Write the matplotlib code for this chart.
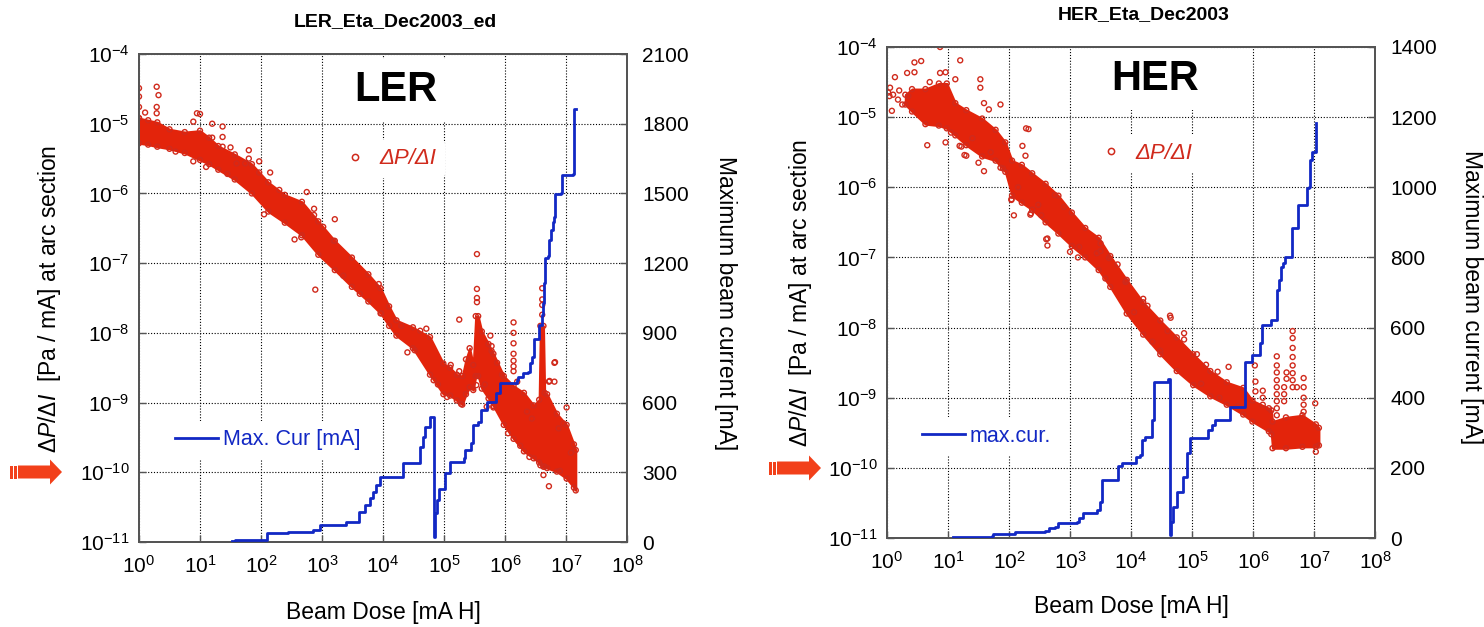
import numpy as np
import matplotlib
matplotlib.use('Agg')
import matplotlib.pyplot as plt
from matplotlib.ticker import FixedLocator, NullLocator, FixedFormatter
from matplotlib.lines import Line2D
from matplotlib.patches import Polygon
import matplotlib.transforms as mtransforms

plt.rcParams['font.family'] = ['Liberation Sans', 'DejaVu Sans']
plt.rcParams['mathtext.fontset'] = 'custom'
plt.rcParams['mathtext.rm'] = 'Liberation Sans'
plt.rcParams['mathtext.it'] = 'Liberation Sans:italic'
plt.rcParams['mathtext.default'] = 'regular'

# ---------------- data (exponents of 10 for the log axes) ----------------
# LER: dense band of dP/dI points (lower / upper envelope of the cloud)
LER_BAND_LOGX = [0.00, 0.15, 0.30, 0.50, 0.75, 1.00, 1.15, 1.30, 1.57, 1.85,
                 2.12, 2.39, 2.67, 2.94, 3.21, 3.49, 3.76, 3.96, 4.10, 4.22,
                 4.49, 4.77, 4.99, 5.10, 5.21, 5.30, 5.36, 5.42, 5.48, 5.52,
                 5.56, 5.62, 5.73, 5.81, 5.98, 6.14, 6.31, 6.47, 6.56, 6.58,
                 6.63, 6.65, 6.69, 6.85, 7.01, 7.13, 7.16]
LER_BAND_LO = [-5.28, -5.30, -5.33, -5.36, -5.42, -5.52, -5.58, -5.66, -5.80, -6.00,
               -6.26, -6.42, -6.60, -6.88, -7.10, -7.34, -7.55, -7.72, -7.90, -8.04,
               -8.22, -8.60, -8.88, -8.90, -8.97, -9.03, -8.88, -8.78, -8.82, -8.62,
               -8.62, -8.80, -8.94, -9.05, -9.32, -9.52, -9.70, -9.80, -9.86, -9.90,
               -9.92, -9.92, -9.94, -9.99, -10.09, -10.22, -10.26]
LER_BAND_HI = [-4.92, -4.95, -4.98, -5.08, -5.12, -5.10, -5.20, -5.32, -5.44, -5.58,
               -5.84, -6.02, -6.12, -6.40, -6.68, -6.92, -7.16, -7.36, -7.62, -7.82,
               -7.92, -8.06, -8.44, -8.50, -8.60, -8.62, -8.38, -8.22, -8.46, -7.76,
               -7.76, -7.98, -8.16, -8.30, -8.62, -8.76, -8.86, -9.04, -8.96, -7.90,
               -7.90, -8.86, -8.88, -9.16, -9.32, -9.60, -9.68]
# LER: isolated points
LER_PTS_LOGX = [0.00, 0.00, 0.00, 0.00, 0.10, 0.29, 0.32, 0.29, 0.29, 0.95,
                1.00, 0.89, 1.20, 1.37, 1.37, 1.20, 1.37, 1.50, 1.80, 1.80,
                1.97, 1.97, 2.15, 1.74, 1.60, 0.89, 2.30, 2.75, 2.87, 2.87,
                3.21, 3.02, 3.19, 2.89, 2.66, 3.93, 3.97, 4.30, 4.61, 4.71,
                4.52, 5.25, 5.54, 5.54, 5.54, 5.54, 5.76, 5.78, 5.78, 5.87,
                5.95, 6.14, 6.14, 6.14, 6.14, 6.14, 6.14, 6.14, 5.11, 5.25,
                5.67, 6.61, 6.61, 6.61, 6.61, 6.81, 6.73, 6.81, 4.83, 5.28,
                5.53, 5.81, 6.20, 6.36, 6.44, 6.82, 6.72, 7.01, 6.96, 6.63,
                6.72, 6.88, 0.60, 1.10, 1.45, 2.05, 2.55, 3.35, 3.62, 4.40,
                4.90, 5.05, 5.70, 6.05, 6.25, 6.40, 6.90, 7.08]
LER_PTS_LOGY = [-4.49, -4.61, -4.76, -4.92, -4.84, -4.47, -4.59, -4.76, -4.85, -4.85,
                -4.86, -4.97, -5.00, -5.04, -5.19, -5.20, -5.33, -5.34, -5.38, -5.50,
                -5.54, -5.70, -5.70, -5.57, -5.57, -5.54, -5.95, -5.98, -6.22, -6.31,
                -6.37, -6.48, -6.68, -7.38, -6.63, -7.30, -7.72, -7.90, -7.97, -7.94,
                -8.25, -7.81, -6.87, -7.37, -7.50, -7.56, -8.04, -8.19, -8.26, -8.43,
                -8.60, -7.85, -8.00, -8.15, -8.30, -8.40, -8.48, -8.55, -8.46, -8.55,
                -8.74, -7.36, -7.52, -7.60, -7.74, -8.43, -8.69, -8.70, -8.68, -9.02,
                -8.75, -9.07, -8.70, -9.13, -9.23, -8.42, -8.70, -9.07, -9.30, -10.04,
                -10.20, -9.37, -5.40, -5.62, -5.72, -6.30, -6.66, -7.18, -7.44, -8.28,
                -8.74, -8.92, -9.06, -9.44, -9.62, -9.78, -9.98, -9.72]
# LER: maximum beam current (step line)
LER_CUR_LOGX = [1.52, 1.57, 2.10, 2.45, 2.86, 2.97, 3.40, 3.60, 3.70, 3.79,
                3.84, 3.88, 3.95, 4.33, 4.61, 4.65, 4.69, 4.77, 4.84, 4.85,
                4.88, 4.92, 5.02, 5.10, 5.32, 5.34, 5.45, 5.48, 5.55, 5.60,
                5.70, 5.86, 5.92, 6.19, 6.22, 6.30, 6.38, 6.41, 6.44, 6.47,
                6.48, 6.55, 6.56, 6.60, 6.63, 6.64, 6.66, 6.70, 6.72, 6.76,
                6.78, 6.80, 6.82, 6.92, 6.94, 7.12, 7.13, 7.16]
LER_CUR = [3, 10, 37, 44, 52, 73, 87, 130, 158, 188,
           216, 245, 280, 338, 410, 453, 496, 539, 22, 123,
           180, 230, 295, 345, 360, 396, 425, 503, 517, 568,
           604, 640, 683, 697, 711, 726, 733, 769, 797, 826,
           872, 876, 934, 977, 1027, 1114, 1221, 1229, 1300, 1343,
           1379, 1400, 1497, 1500, 1579, 1583, 1864, 1864]

# HER: dense band
HER_BAND_LOGX = [0.30, 0.41, 0.63, 0.85, 0.98, 1.12, 1.30, 1.56, 1.78, 1.94,
                 2.05, 2.21, 2.38, 2.60, 2.81, 3.03, 3.25, 3.47, 3.66, 3.93,
                 4.20, 4.48, 4.75, 5.02, 5.30, 5.57, 5.84, 5.99, 6.26, 6.30,
                 6.32, 6.54, 6.81, 7.03, 7.08]
HER_BAND_LO = [-4.82, -4.92, -5.10, -5.12, -5.16, -5.26, -5.40, -5.56, -5.62, -5.78,
               -6.12, -6.22, -6.32, -6.50, -6.66, -6.84, -7.00, -7.18, -7.42, -7.80,
               -8.10, -8.38, -8.62, -8.82, -8.98, -9.10, -9.24, -9.34, -9.48, -9.52,
               -9.72, -9.72, -9.70, -9.70, -9.68]
HER_BAND_HI = [-4.68, -4.60, -4.60, -4.52, -4.52, -4.80, -4.90, -5.02, -5.18, -5.36,
               -5.62, -5.68, -5.80, -5.95, -6.12, -6.36, -6.58, -6.72, -6.98, -7.32,
               -7.64, -7.90, -8.14, -8.38, -8.62, -8.78, -8.86, -9.04, -9.15, -9.18,
               -9.34, -9.28, -9.25, -9.38, -9.43]
# HER: isolated points
HER_PTS_LOGX = [0.87, 0.45, 0.56, 1.20, 0.13, 0.33, 0.45, 0.87, 0.96, 0.05,
                0.04, 0.18, 0.25, 0.08, 1.12, 1.53, 1.53, 1.86, 1.59, 1.67,
                2.32, 0.66, 0.96, 1.22, 1.30, 1.50, 1.59, 1.86, 2.04, 2.08,
                2.36, 2.63, 2.63, 3.00, 3.13, 3.50, 3.50, 3.64, 3.91, 2.28,
                2.22, 2.27, 1.27, 1.19, 1.90, 2.04, 2.35, 2.53, 2.75, 2.61,
                3.44, 3.78, 3.92, 4.20, 4.27, 4.64, 4.87, 4.87, 5.08, 5.23,
                5.42, 5.60, 6.03, 6.04, 6.04, 6.39, 6.39, 6.39, 6.39, 6.39,
                6.39, 6.39, 6.39, 6.39, 6.65, 6.65, 6.65, 6.65, 6.65, 6.65,
                6.65, 6.65, 6.55, 6.55, 6.72, 6.83, 6.83, 6.83, 6.83, 6.83,
                7.02, 4.65, 4.48, 7.03, 6.16, 6.16, 6.16, 6.51, 6.51, 6.51,
                0.02, 0.10, 0.20, 0.35, 0.70, 1.05, 1.40, 1.70, 2.15, 2.48,
                2.90, 3.15, 3.58, 4.05, 4.35, 4.60, 5.15, 5.45, 5.75]
HER_PTS_LOGY = [-4.00, -4.22, -4.20, -4.19, -4.43, -4.37, -4.36, -4.37, -4.36, -4.58,
                -4.70, -4.75, -4.82, -4.91, -4.46, -4.46, -4.58, -4.82, -4.80, -4.89,
                -5.17, -5.40, -5.36, -5.42, -5.55, -5.65, -5.77, -5.72, -6.18, -6.40,
                -6.37, -6.73, -6.83, -6.92, -7.00, -6.80, -6.91, -7.01, -7.35, -5.16,
                -5.41, -5.55, -5.54, -5.41, -5.73, -6.17, -6.39, -6.40, -6.11, -6.74,
                -6.94, -7.10, -7.34, -7.59, -7.69, -7.83, -8.08, -8.17, -8.38, -8.53,
                -8.63, -8.56, -8.54, -8.77, -8.91, -8.41, -8.54, -8.64, -8.75, -8.85,
                -8.95, -9.05, -9.15, -9.25, -8.05, -8.15, -8.29, -8.42, -8.54, -8.65,
                -8.75, -8.85, -8.64, -8.73, -8.85, -8.72, -8.85, -9.00, -9.10, -9.20,
                -9.08, -7.86, -8.33, -9.77, -8.90, -9.00, -9.10, -8.85, -8.95, -9.05,
                -4.65, -4.68, -4.62, -4.70, -4.50, -5.22, -5.30, -5.50, -6.00, -6.25,
                -6.28, -6.85, -7.30, -7.78, -8.20, -8.05, -8.80, -9.00, -9.12]
# HER: maximum beam current (step line)
HER_CUR_LOGX = [1.09, 1.72, 1.74, 2.10, 2.59, 2.65, 2.75, 2.81, 2.97, 3.11,
                3.14, 3.22, 3.45, 3.49, 3.52, 3.79, 3.85, 4.09, 4.15, 4.18,
                4.23, 4.34, 4.38, 4.61, 4.64, 4.66, 4.69, 4.75, 4.85, 4.91,
                4.97, 5.27, 5.32, 5.38, 5.62, 5.63, 5.87, 5.99, 6.12, 6.15,
                6.30, 6.40, 6.43, 6.46, 6.50, 6.53, 6.64, 6.74, 6.88, 6.92,
                6.94, 6.96, 7.04]
HER_CUR = [4, 6, 11, 18, 21, 28, 32, 42, 44, 47,
           56, 72, 80, 104, 166, 204, 215, 232, 237, 279,
           287, 336, 446, 452, 9, 47, 89, 132, 175, 241,
           284, 308, 322, 336, 341, 374, 503, 521, 555, 607,
           621, 708, 736, 773, 783, 800, 883, 949, 997, 1002,
           1078, 1101, 1182]

X_EXP = list(range(0, 9))
Y_EXP = list(range(-11, -3))
LER_RIGHT_TICKS = [0, 300, 600, 900, 1200, 1500, 1800, 2100]
HER_RIGHT_TICKS = [0, 200, 400, 600, 800, 1000, 1200, 1400]

# ---------------- styling ----------------
W, H = 1484, 627
RED = '#e3240b'
RED_EDGE = '#d02a1c'
BLUE = '#1228c4'
ARROW = '#f2401a'
SPINE = '#555555'

fig = plt.figure(figsize=(W / 100, H / 100), dpi=100)
pix = mtransforms.Affine2D().scale(1.0 / W, -1.0 / H).translate(0, 1) + fig.transFigure


def fx(px):
    return px / W


def fy(py):
    return 1 - py / H


def panel(box, band, pts, cur, right_ticks, title, title_xy, big, big_xy,
          leg1_xy, leg2_xy, leg2_label, ylab_x, ylab_y, rlab_x, rlab_y,
          xlab_y, arrow_x, arrow_y):
    x0, y0, x1, y1 = box
    ax = fig.add_axes([fx(x0), fy(y1), (x1 - x0) / W, (y1 - y0) / H])
    ax.set_xscale('log')
    ax.set_yscale('log')
    ax.set_xlim(1, 1e8)
    ax.set_ylim(1e-11, 1e-4)
    ax.xaxis.set_major_locator(FixedLocator([10.0 ** e for e in X_EXP]))
    ax.xaxis.set_major_formatter(FixedFormatter([r'$10^{%d}$' % e for e in X_EXP]))
    ax.yaxis.set_major_locator(FixedLocator([10.0 ** e for e in Y_EXP]))
    ax.yaxis.set_major_formatter(FixedFormatter([r'$10^{%d}$' % e for e in Y_EXP]))
    ax.xaxis.set_minor_locator(NullLocator())
    ax.yaxis.set_minor_locator(NullLocator())
    ax.grid(True, which='major', color='black', linestyle=(0, (1, 1.6)), linewidth=0.8)
    ax.tick_params(axis='both', direction='in', length=5, width=1, colors=SPINE,
                   labelcolor='black', labelsize=15)
    ax.tick_params(axis='x', pad=9)
    ax.tick_params(axis='y', pad=7)
    for s in ax.spines.values():
        s.set_color(SPINE)
        s.set_linewidth(1.4)

    bx, blo, bhi = (np.array(v) for v in band)
    ax.fill_between(10.0 ** bx, 10.0 ** blo, 10.0 ** bhi, color=RED, linewidth=1.5,
                    edgecolor=RED, zorder=2)
    ax.scatter(10.0 ** bx, 10.0 ** blo, s=13, facecolors='none', edgecolors=RED_EDGE,
               linewidths=1.0, zorder=3)
    ax.scatter(10.0 ** bx, 10.0 ** bhi, s=13, facecolors='none', edgecolors=RED_EDGE,
               linewidths=1.0, zorder=3)
    px_, py_ = (np.array(v) for v in pts)
    ax.scatter(10.0 ** px_, 10.0 ** py_, s=13, facecolors='none', edgecolors=RED_EDGE,
               linewidths=1.0, zorder=3)

    ax2 = ax.twinx()
    ax2.set_ylim(right_ticks[0], right_ticks[-1])
    ax2.yaxis.set_major_locator(FixedLocator(right_ticks))
    ax2.tick_params(axis='y', direction='in', length=5, width=1, colors=SPINE,
                    labelcolor='black', labelsize=15, pad=11)
    for s in ax2.spines.values():
        s.set_color(SPINE)
        s.set_linewidth(1.4)
    cx, cy = (np.array(v) for v in cur)
    ax2.step(10.0 ** cx, cy, where='post', color=BLUE, linewidth=2.0, zorder=4)

    # legends
    h1 = Line2D([], [], marker='o', linestyle='none', markerfacecolor='none',
                markeredgecolor=RED_EDGE, markersize=4.5, markeredgewidth=1.1)
    lg1 = ax.legend([h1], ['\u0394P/\u0394I'], loc='center left',
                    bbox_to_anchor=(fx(leg1_xy[0]), fy(leg1_xy[1])),
                    bbox_transform=fig.transFigure, frameon=True, facecolor='white',
                    edgecolor='none', framealpha=1, handlelength=1.0, handletextpad=0.6,
                    borderpad=0.4, borderaxespad=0,
                    prop={'style': 'italic', 'size': 16}, labelcolor=RED_EDGE)
    lg1.set_zorder(6)
    h2 = Line2D([], [], color=BLUE, linewidth=2.0)
    ax2.legend([h2], [leg2_label], loc='center left',
               bbox_to_anchor=(fx(leg2_xy[0]), fy(leg2_xy[1])),
               bbox_transform=fig.transFigure, frameon=True, facecolor='white',
               edgecolor='none', framealpha=1, handlelength=2.0, handletextpad=0.25,
               borderpad=0.4, borderaxespad=0, prop={'size': 15.5}, labelcolor=BLUE)

    fig.text(fx(title_xy[0]), fy(title_xy[1]), title, ha='center', va='center',
             fontsize=14, fontweight='bold')
    fig.text(fx(big_xy[0]), fy(big_xy[1]), big, ha='center', va='center',
             fontsize=30, fontweight='bold',
             bbox=dict(facecolor='white', edgecolor='none', pad=8))
    fig.text(fx(ylab_x), fy(ylab_y), r'$\mathit{\Delta P/\Delta I}$  [Pa / mA] at arc section',
             rotation=90, ha='center', va='center', fontsize=16.5)
    fig.text(fx(rlab_x), fy(rlab_y), 'Maximum beam current [mA]',
             rotation=270, ha='center', va='center', fontsize=16.5)
    fig.text(fx((x0 + x1) / 2), fy(xlab_y), 'Beam Dose [mA H]', ha='center', va='center',
             fontsize=16.5)

    # red arrow pointing at the 10^-10 label
    ax_ = arrow_x
    ay = arrow_y
    for sx in (0, 4):
        fig.patches.append(Polygon([[ax_ + sx, ay - 6.5], [ax_ + sx + 2.6, ay - 6.5],
                                    [ax_ + sx + 2.6, ay + 6.5], [ax_ + sx, ay + 6.5]],
                                   closed=True, transform=pix, facecolor=ARROW,
                                   edgecolor='none'))
    fig.patches.append(Polygon([[ax_ + 8, ay - 6.5], [ax_ + 40, ay - 6.5], [ax_ + 40, ay - 12.5],
                                [ax_ + 52, ay], [ax_ + 40, ay + 12.5], [ax_ + 40, ay + 6.5],
                                [ax_ + 8, ay + 6.5]],
                               closed=True, transform=pix, facecolor=ARROW, edgecolor='none'))
    return ax, ax2


panel((139, 54, 627, 542),
      (LER_BAND_LOGX, LER_BAND_LO, LER_BAND_HI),
      (LER_PTS_LOGX, LER_PTS_LOGY),
      (LER_CUR_LOGX, LER_CUR), LER_RIGHT_TICKS,
      'LER_Eta_Dec2003_ed', (395, 22), 'LER', (396, 90),
      (335, 159), (166, 440), 'Max. Cur [mA]',
      50, 299, 726, 303, 612, 10, 472)

panel((887, 47, 1375, 538),
      (HER_BAND_LOGX, HER_BAND_LO, HER_BAND_HI),
      (HER_PTS_LOGX, HER_PTS_LOGY),
      (HER_CUR_LOGX, HER_CUR), HER_RIGHT_TICKS,
      'HER_Eta_Dec2003', (1144, 15), 'HER', (1155, 79),
      (1091, 153), (913, 436), 'max.cur.',
      801, 293, 1471, 297, 607, 769, 468)

fig.savefig('out.png', dpi=100)
